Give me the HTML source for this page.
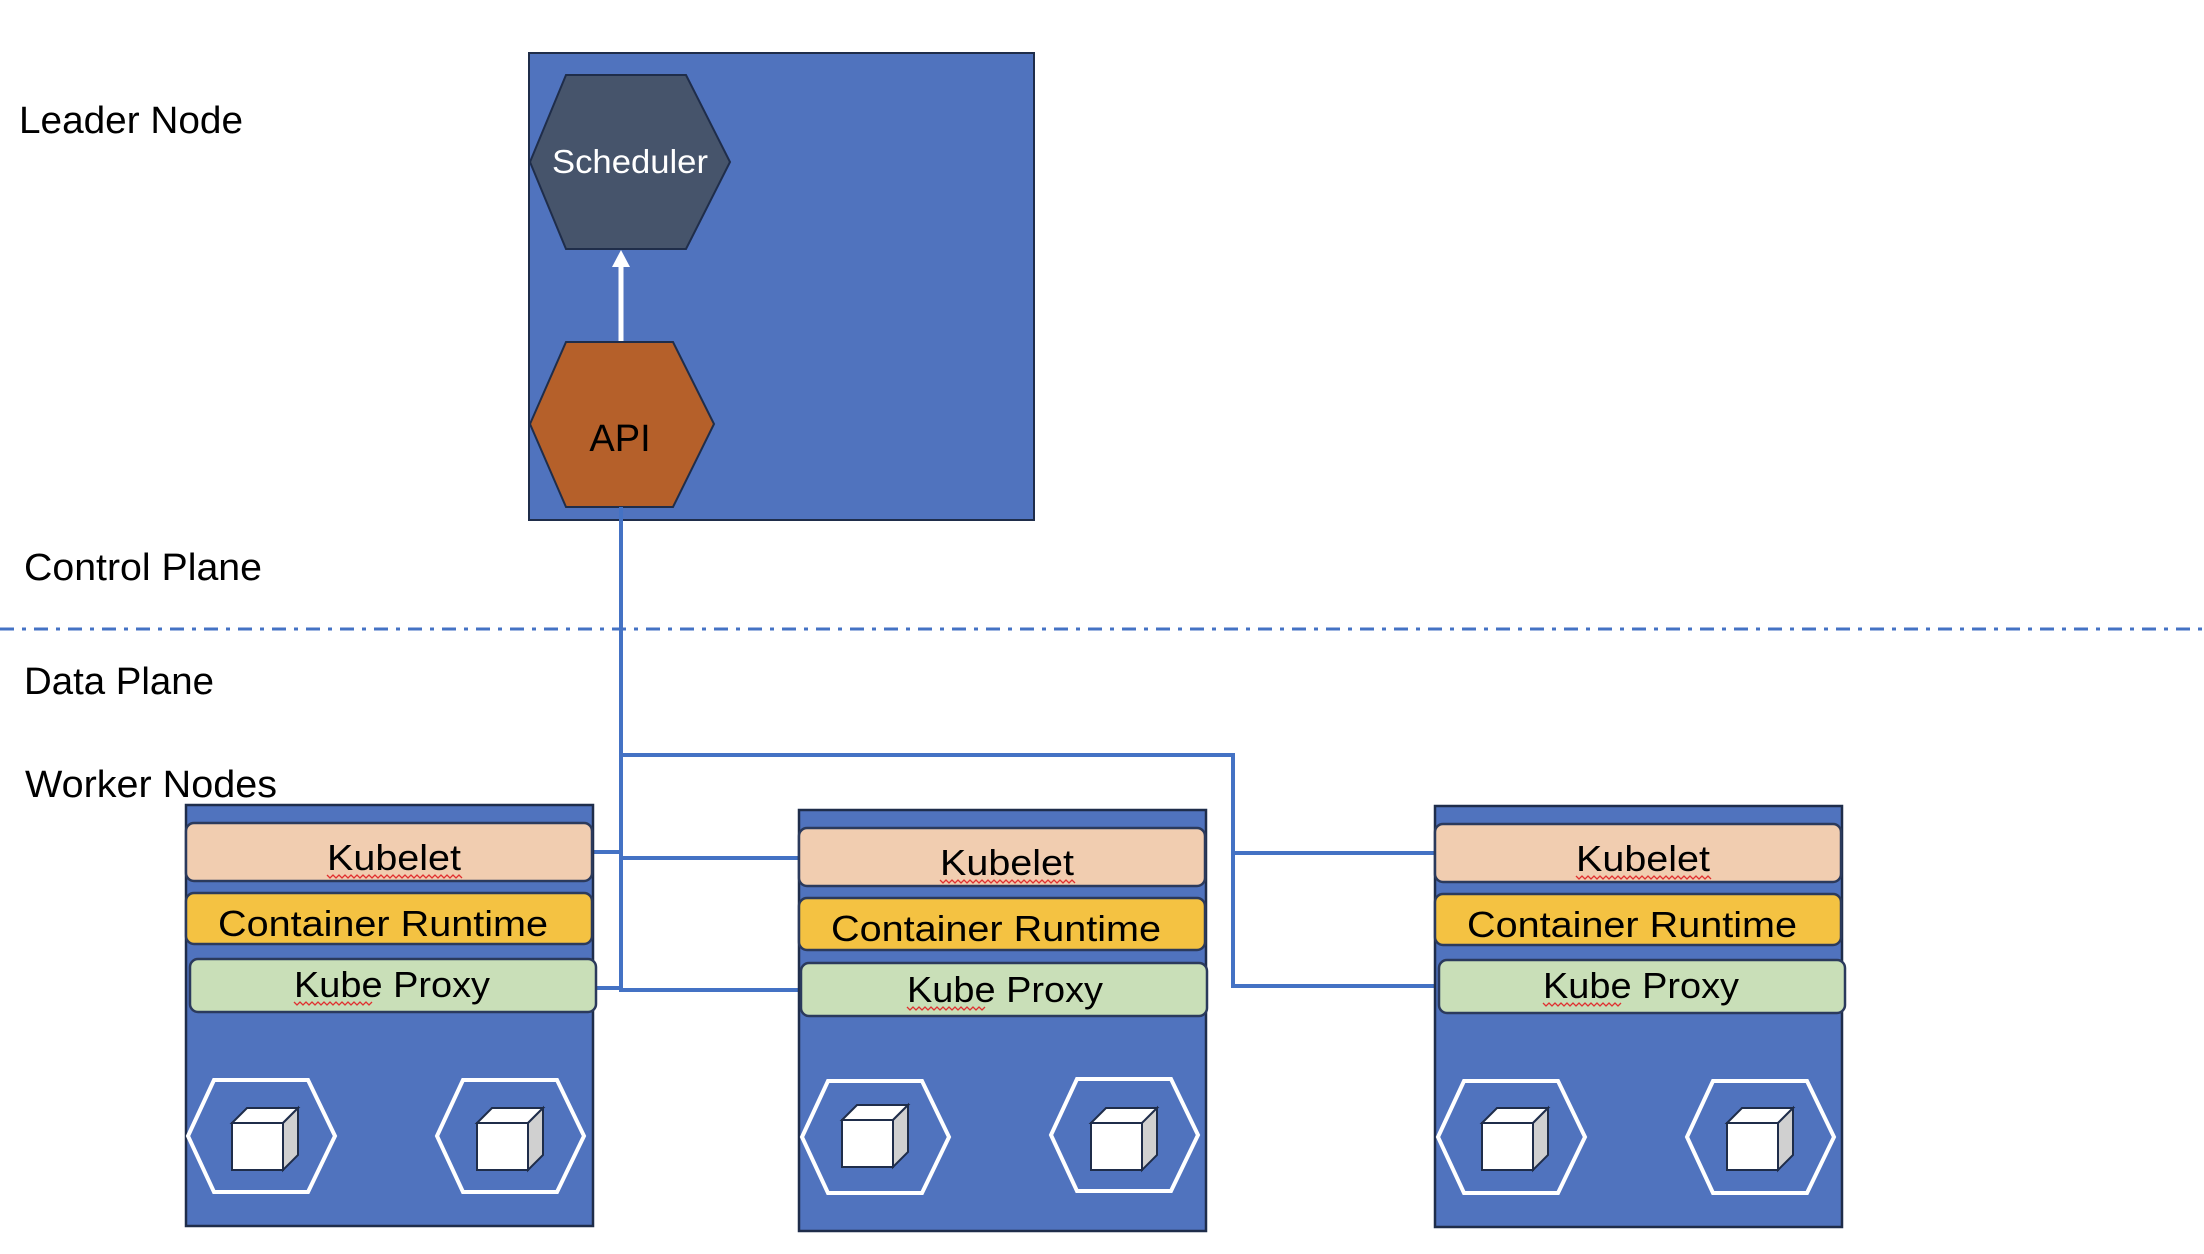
<!DOCTYPE html>
<html><head><meta charset="utf-8"><style>
html,body{margin:0;padding:0;background:#fff;}
svg{display:block;}
text{font-family:"Liberation Sans",sans-serif;}
</style></head><body>
<svg width="2204" height="1254" viewBox="0 0 2204 1254" xmlns="http://www.w3.org/2000/svg">
<defs>
<g id="pod">
  <polygon points="0,56 26,0 120,0 147,56 120,112 26,112" fill="none" stroke="#fff" stroke-width="4"/>
</g>
<g id="cube">
  <polygon points="0,15 15,0 66,0 51,15" fill="#fff" stroke="#1f2d4a" stroke-width="2"/>
  <polygon points="51,15 66,0 66,47 51,62" fill="#d0d0d0" stroke="#1f2d4a" stroke-width="2"/>
  <rect x="0" y="15" width="51" height="47" fill="#fff" stroke="#1f2d4a" stroke-width="2"/>
</g>
<path id="wave" d="M0,0 l3,3 l3,-3 l3,3 l3,-3 l3,3 l3,-3 l3,3 l3,-3 l3,3 l3,-3 l3,3 l3,-3 l3,3 l3,-3 l3,3 l3,-3 l3,3 l3,-3 l3,3 l3,-3 l3,3 l3,-3 l3,3 l3,-3 l3,3 l3,-3 l3,3 l3,-3 l3,3 l3,-3 l3,3 l3,-3 l3,3 l3,-3 l3,3 l3,-3 l3,3 l3,-3 l3,3 l3,-3 l3,3 l3,-3 l3,3 l3,-3 l3,3" fill="none" stroke="#e03030" stroke-width="1.3"/>
<path id="wave2" d="M0,0 l3,3 l3,-3 l3,3 l3,-3 l3,3 l3,-3 l3,3 l3,-3 l3,3 l3,-3 l3,3 l3,-3 l3,3 l3,-3 l3,3 l3,-3 l3,3 l3,-3 l3,3 l3,-3 l3,3 l3,-3 l3,3 l3,-3 l3,3 l3,-3" fill="none" stroke="#e03030" stroke-width="1.3"/>
</defs>

<text x="19" y="133" font-size="38" textLength="224" lengthAdjust="spacingAndGlyphs">Leader Node</text>
<text x="24" y="580" font-size="38" textLength="238" lengthAdjust="spacingAndGlyphs">Control Plane</text>
<text x="24" y="694" font-size="38" textLength="190" lengthAdjust="spacingAndGlyphs">Data Plane</text>
<text x="25" y="797" font-size="38" textLength="252" lengthAdjust="spacingAndGlyphs">Worker Nodes</text>

<line x1="0" y1="629" x2="2204" y2="629" stroke="#4472c4" stroke-width="3" stroke-dasharray="14,8,4,8"/>

<rect x="529" y="53" width="505" height="467" fill="#5073be" stroke="#1f2d4a" stroke-width="2"/>
<polygon points="530,162 566,75 686,75 730,162 686,249 566,249" fill="#46546b" stroke="#1f2d4a" stroke-width="2"/>
<text x="630" y="173" font-size="33" fill="#fff" text-anchor="middle" textLength="156" lengthAdjust="spacingAndGlyphs">Scheduler</text>
<line x1="621" y1="342" x2="621" y2="264" stroke="#fff" stroke-width="5"/>
<polygon points="612,267 621,250 630,267" fill="#fff"/>
<polygon points="530,424 566,342 673,342 714,424 673,507 566,507" fill="#b5602a" stroke="#1f2d4a" stroke-width="2"/>
<text x="620" y="451" font-size="38" fill="#000" text-anchor="middle">API</text>

<g stroke="#4472c4" stroke-width="4" fill="none">
  <line x1="621" y1="507" x2="621" y2="992"/>
  <polyline points="621,755 1233,755 1233,988"/>
  <line x1="593" y1="852" x2="621" y2="852"/>
  <line x1="621" y1="858" x2="799" y2="858"/>
  <line x1="596" y1="988" x2="621" y2="988"/>
  <line x1="621" y1="990" x2="801" y2="990"/>
  <line x1="1233" y1="853" x2="1435" y2="853"/>
  <line x1="1233" y1="986" x2="1437" y2="986"/>
</g>

<g>
<rect x="186" y="805" width="407" height="421" fill="#5073be" stroke="#1f2d4a" stroke-width="2.5"/>
<rect x="186" y="823" width="406" height="58" rx="8" fill="#f1cdb0" stroke="#2b3a5c" stroke-width="2.5"/>
<text x="394" y="870" font-size="36" text-anchor="middle" textLength="134" lengthAdjust="spacingAndGlyphs">Kubelet</text>
<use href="#wave" x="327" y="875"/>
<rect x="186" y="893" width="406" height="51" rx="8" fill="#f4c242" stroke="#2b3a5c" stroke-width="2.5"/>
<text x="383" y="936" font-size="36" text-anchor="middle" textLength="330" lengthAdjust="spacingAndGlyphs">Container Runtime</text>
<rect x="190" y="959" width="406" height="53" rx="8" fill="#c9dfb8" stroke="#2b3a5c" stroke-width="2.5"/>
<text x="392" y="997" font-size="36" text-anchor="middle" textLength="196" lengthAdjust="spacingAndGlyphs">Kube Proxy</text>
<use href="#wave2" x="294" y="1002"/>
<use href="#pod" x="188" y="1080"/>
<use href="#pod" x="437" y="1080"/>
<use href="#cube" x="232" y="1108"/>
<use href="#cube" x="477" y="1108"/>
</g>

<g>
<rect x="799" y="810" width="407" height="421" fill="#5073be" stroke="#1f2d4a" stroke-width="2.5"/>
<rect x="799" y="828" width="406" height="58" rx="8" fill="#f1cdb0" stroke="#2b3a5c" stroke-width="2.5"/>
<text x="1007" y="875" font-size="36" text-anchor="middle" textLength="134" lengthAdjust="spacingAndGlyphs">Kubelet</text>
<use href="#wave" x="940" y="880"/>
<rect x="799" y="898" width="406" height="52" rx="8" fill="#f4c242" stroke="#2b3a5c" stroke-width="2.5"/>
<text x="996" y="941" font-size="36" text-anchor="middle" textLength="330" lengthAdjust="spacingAndGlyphs">Container Runtime</text>
<rect x="801" y="963" width="406" height="53" rx="8" fill="#c9dfb8" stroke="#2b3a5c" stroke-width="2.5"/>
<text x="1005" y="1002" font-size="36" text-anchor="middle" textLength="196" lengthAdjust="spacingAndGlyphs">Kube Proxy</text>
<use href="#wave2" x="907" y="1007"/>
<use href="#pod" x="802" y="1081"/>
<use href="#pod" x="1051" y="1079"/>
<use href="#cube" x="842" y="1105"/>
<use href="#cube" x="1091" y="1108"/>
</g>

<g>
<rect x="1435" y="806" width="407" height="421" fill="#5073be" stroke="#1f2d4a" stroke-width="2.5"/>
<rect x="1435" y="824" width="406" height="58" rx="8" fill="#f1cdb0" stroke="#2b3a5c" stroke-width="2.5"/>
<text x="1643" y="871" font-size="36" text-anchor="middle" textLength="134" lengthAdjust="spacingAndGlyphs">Kubelet</text>
<use href="#wave" x="1576" y="876"/>
<rect x="1435" y="894" width="406" height="51" rx="8" fill="#f4c242" stroke="#2b3a5c" stroke-width="2.5"/>
<text x="1632" y="937" font-size="36" text-anchor="middle" textLength="330" lengthAdjust="spacingAndGlyphs">Container Runtime</text>
<rect x="1439" y="960" width="406" height="53" rx="8" fill="#c9dfb8" stroke="#2b3a5c" stroke-width="2.5"/>
<text x="1641" y="998" font-size="36" text-anchor="middle" textLength="196" lengthAdjust="spacingAndGlyphs">Kube Proxy</text>
<use href="#wave2" x="1543" y="1003"/>
<use href="#pod" x="1438" y="1081"/>
<use href="#pod" x="1687" y="1081"/>
<use href="#cube" x="1482" y="1108"/>
<use href="#cube" x="1727" y="1108"/>
</g>
</svg>
</body></html>
